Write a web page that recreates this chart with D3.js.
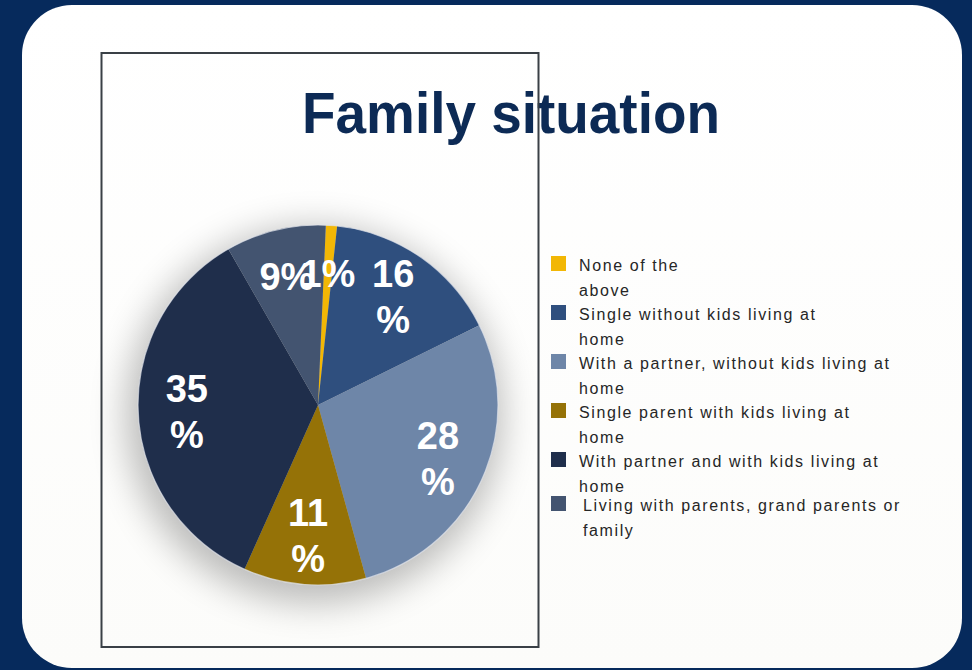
<!DOCTYPE html>
<html>
<head>
<meta charset="utf-8">
<script src="https://cdn.jsdelivr.net/npm/d3@7"></script>
<style>
  html, body { margin: 0; padding: 0; background: #062a5c; }
  svg { display: block; }
</style>
</head>
<body>
<script>
// data

const categories = [
  "None of the above",
  "Single without kids living at home",
  "With a partner, without kids living at home",
  "Single parent with kids living at home",
  "With partner and with kids living at home",
  "Living with parents, grand parents or family"
];
const shares = [1, 16, 28, 11, 35, 9];
const legendLines = [
  ["None of the", "above"],
  ["Single without kids living at", "home"],
  ["With a partner, without kids living at", "home"],
  ["Single parent with kids living at", "home"],
  ["With partner and with kids living at", "home"],
  ["Living with parents, grand parents or", "family"]
];
const colors = ["#f2b705", "#2f4f7e", "#6e86a8", "#957207", "#1f2e4b", "#435470"];

// layout

const w = 972;
const h = 670;
const cx = 318;
const cy = 405;
const r = 180;

const svg = d3.select("body").append("svg")
  .attr("width", w)
  .attr("height", h);

const defs = svg.append("defs");

const shadow = defs.append("filter")
  .attr("id", "shadow")
  .attr("x", "-50%").attr("y", "-50%")
  .attr("width", "200%").attr("height", "200%");
shadow.append("feGaussianBlur").attr("stdDeviation", 18);

const cardGrad = defs.append("linearGradient")
  .attr("id", "card")
  .attr("x1", 0).attr("y1", 0).attr("x2", 0).attr("y2", 1);
cardGrad.append("stop").attr("offset", "0%").attr("stop-color", "#ffffff");
cardGrad.append("stop").attr("offset", "100%").attr("stop-color", "#fcfcfa");

// card

svg.append("rect")
  .attr("x", 22)
  .attr("y", 5)
  .attr("width", 940)
  .attr("height", 663)
  .attr("rx", 50)
  .attr("fill", "url(#card)");

// title

svg.append("text")
  .attr("x", 511)
  .attr("y", 133)
  .attr("text-anchor", "middle")
  .attr("font-family", "Liberation Sans, Arial, sans-serif")
  .attr("font-weight", "bold")
  .attr("font-size", 57)
  .attr("textLength", 418)
  .attr("lengthAdjust", "spacingAndGlyphs")
  .attr("fill", "#0c2a55")
  .text("Family situation");

// frame of the chart area (drawn over the title)

svg.append("rect")
  .attr("x", 101.5)
  .attr("y", 53)
  .attr("width", 437)
  .attr("height", 594)
  .attr("fill", "none")
  .attr("stroke", "#3a4046")
  .attr("stroke-width", 2);

// pie

const pie = d3.pie()
  .sort(null)
  .startAngle(2.5 * Math.PI / 180)
  .endAngle(2 * Math.PI + 2.5 * Math.PI / 180);

const arcs = pie(shares);
const arc = d3.arc().innerRadius(0).outerRadius(r);
const labelArc = d3.arc().innerRadius(r * 0.73).outerRadius(r * 0.73);

const g = svg.append("g")
  .attr("transform", "translate(" + cx + "," + cy + ")");

g.append("circle")
  .attr("cx", -4)
  .attr("cy", 10)
  .attr("r", r + 8)
  .attr("fill", "#000")
  .attr("opacity", 0.26)
  .attr("filter", "url(#shadow)");

g.selectAll("path.slice")
  .data(arcs)
  .enter()
  .append("path")
  .attr("class", "slice")
  .attr("d", arc)
  .attr("fill", (d, i) => colors[i]);

g.append("circle")
  .attr("r", r)
  .attr("fill", "none")
  .attr("stroke", "#e3e6ec")
  .attr("stroke-width", 1.2)
  .attr("opacity", 0.7);

// slice labels, wrapped like the original ("16" / "%")

const lineH = 46;
const labels = g.selectAll("text.lbl")
  .data(arcs)
  .enter()
  .append("text")
  .attr("class", "lbl")
  .attr("text-anchor", "middle")
  .attr("font-family", "Liberation Sans, Arial, sans-serif")
  .attr("font-weight", "bold")
  .attr("font-size", 38)
  .attr("fill", "#ffffff");

labels.each(function (d) {
  const c = labelArc.centroid(d);
  const lines = d.data >= 10 ? [String(d.data), "%"] : [d.data + "%"];
  const top = c[1] - (lines.length - 1) * lineH / 2 + 13;
  lines.forEach((t, k) => {
    d3.select(this).append("tspan")
      .attr("x", c[0])
      .attr("y", top + k * lineH)
      .text(t);
  });
});

// legend

const legend = svg.append("g")
  .attr("transform", "translate(551, 256)");

const entryH = 49;

const item = legend.selectAll("g")
  .data(categories)
  .enter()
  .append("g")
  .attr("transform", (d, i) => "translate(0," + (i * entryH - (i === 5 ? 5 : 0)) + ")");

item.append("rect")
  .attr("width", 15)
  .attr("height", 15)
  .attr("fill", (d, i) => colors[i]);

item.append("text")
  .attr("font-family", "Liberation Sans, Arial, sans-serif")
  .attr("font-size", 16)
  .attr("letter-spacing", 1.6)
  .attr("fill", "#262626")
  .each(function (d, i) {
    legendLines[i].forEach((t, k) => {
      d3.select(this).append("tspan")
        .attr("x", i === 5 ? 32 : 28)
        .attr("y", 15 + k * 24.5)
        .text(t);
    });
  });
</script>
</body>
</html>
